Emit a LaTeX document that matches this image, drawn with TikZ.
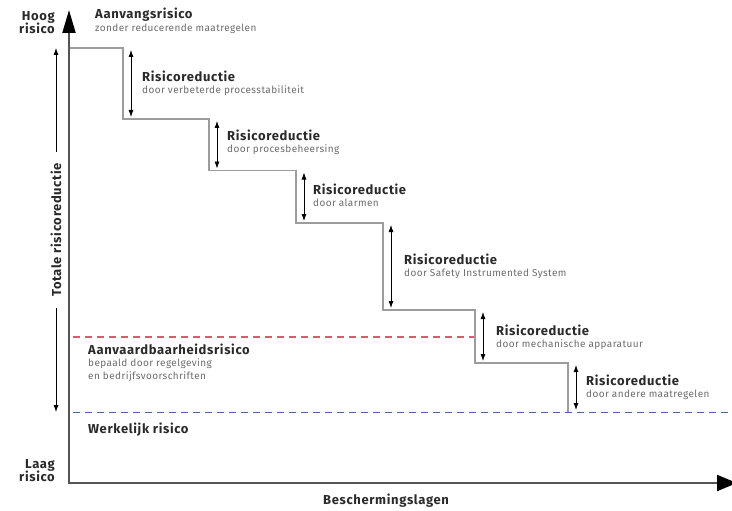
\documentclass[tikz,border=0pt]{standalone}
\usepackage{fontspec}
\setmainfont{Fira Sans}
\newfontfamily\headfont{Fira Sans}[LetterSpace=5]
\newfontfamily\subfont{Fira Sans}[LetterSpace=4]
\usetikzlibrary{arrows.meta,positioning}
\definecolor{titletext}{HTML}{2A2A2A}
\definecolor{subtext}{HTML}{6C6C6C}
\definecolor{stepgrey}{HTML}{9C9C9C}
\definecolor{axisgrey}{HTML}{555555}
\definecolor{acceptred}{HTML}{D85C6C}
\definecolor{actualblue}{HTML}{4F63A8}

\begin{document}
\begin{tikzpicture}[x=1pt, y=-1pt,
    head/.style = {anchor=base west, inner sep=0pt, text=titletext, font=\headfont\bfseries\fontsize{13}{15}\selectfont},
    sub/.style = {anchor=base west, inner sep=0pt, text=subtext, font=\subfont\fontsize{10}{12}\selectfont},
    stairs/.style = {draw=stepgrey, line width=1.8pt},
    axis/.style = {draw=axisgrey, line width=2pt, {Triangle[length=23pt,width=13pt,color=black]}-{Triangle[length=20pt,width=16pt,color=black]}},
    reduc/.style = {draw=black, line width=0.8pt, {Latex[length=7pt,width=5pt]}-{Latex[length=7pt,width=5pt]}},
    level/.style = {line width=1.4pt, dash pattern=on 7pt off 5pt}
    ]
    \useasboundingbox (0,0) rectangle (732,511);

    \coordinate (O) at (69,483);
    \coordinate (ytop) at (69,10);
    \coordinate (xend) at (737,483);

    \coordinate (s0) at (69,48);
    \coordinate (s1) at (123,48);
    \coordinate (s2) at (123,119);
    \coordinate (s3) at (209,119);
    \coordinate (s4) at (209,170.5);
    \coordinate (s5) at (296,170.5);
    \coordinate (s6) at (296,223);
    \coordinate (s7) at (383,223);
    \coordinate (s8) at (383,310);
    \coordinate (s9) at (475,310);
    \coordinate (s10) at (475,363);
    \coordinate (s11) at (568,363);
    \coordinate (s12) at (568,412);

    \coordinate (accL) at (73,337);
    \coordinate (actL) at (73,412.5);
    \coordinate (actR) at (732,412.5);

    \draw[level, draw=acceptred] (accL) -- (accL -| s9);
    \draw[level, draw=actualblue] (actL) -- (actR);

    \draw[stairs] (s0) -- (s1) -- (s2) -- (s3) -- (s4) -- (s5) -- (s6) -- (s7) -- (s8) -- (s9) -- (s10) -- (s11) -- (s12);
    \draw[axis] (ytop) -- (O) -- (xend);

    \draw[reduc] ([shift={(8,2)}]s1) -- ([shift={(8,-2)}]s2);
    \draw[reduc] ([shift={(8,2)}]s3) -- ([shift={(8,-2)}]s4);
    \draw[reduc] ([shift={(8,2)}]s5) -- ([shift={(8,-2)}]s6);
    \draw[reduc] ([shift={(8,2)}]s7) -- ([shift={(8,-2)}]s8);
    \draw[reduc] ([shift={(8,2)}]s9) -- ([shift={(8,-2)}]s10);
    \draw[reduc] ([shift={(8,2)}]s11) -- ([shift={(8,-2)}]s12);

    \node[head, anchor=base east] (hoog) at (55,21) {Hoog};
    \node[head, anchor=base east] (hoogb) at ([yshift=-13pt]hoog.base east) {risico};
    \node[head, anchor=base east] (laag) at (55,468) {Laag};
    \node[head, anchor=base east] (laagb) at ([yshift=-13pt]laag.base east) {risico};

    \node[head] (start) at (95,19) {Aanvangsrisico};
    \node[sub] (starts) at ([yshift=-13pt]start.base west) {zonder reducerende maatregelen};

    \node[head] (r1) at (142,82) {Risicoreductie};
    \node[sub] (r1s) at ([yshift=-12pt]r1.base west) {door verbeterde processtabiliteit};
    \node[head] (r2) at (227,141) {Risicoreductie};
    \node[sub] (r2s) at ([yshift=-12pt]r2.base west) {door procesbeheersing};
    \node[head] (r3) at (313,194) {Risicoreductie};
    \node[sub] (r3s) at ([yshift=-12pt]r3.base west) {door alarmen};
    \node[head] (r4) at (404,264) {Risicoreductie};
    \node[sub] (r4s) at ([yshift=-12pt]r4.base west) {door Safety Instrumented System};
    \node[head] (r5) at (496,335) {Risicoreductie};
    \node[sub] (r5s) at ([yshift=-12pt]r5.base west) {door mechanische apparatuur};
    \node[head] (r6) at (586,385) {Risicoreductie};
    \node[sub] (r6s) at ([yshift=-12pt]r6.base west) {door andere maatregelen};

    \node[head] (acc) at (88,354) {Aanvaardbaarheidsrisico};
    \node[sub] (accs) at ([yshift=-12.5pt]acc.base west) {bepaald door regelgeving};
    \node[sub] (accs2) at ([yshift=-12.5pt]accs.base west) {en bedrijfsvoorschriften};
    \node[head] (act) at (88,433) {Werkelijk risico};

    \node[head, anchor=center, rotate=90, inner xsep=11pt] (total) at (56,230) {Totale risicoreductie};
    \coordinate (ttop) at (56,48);
    \coordinate (tbot) at (56,412);
    \draw[reduc, {Latex[length=7pt,width=5pt]}-{}] (ttop) -- (total.east);
    \draw[reduc, {}-{Latex[length=7pt,width=5pt]}] (total.west) -- (tbot);

    \node[head, anchor=base] (xlab) at (386,504) {Beschermingslagen};
\end{tikzpicture}
\end{document}
